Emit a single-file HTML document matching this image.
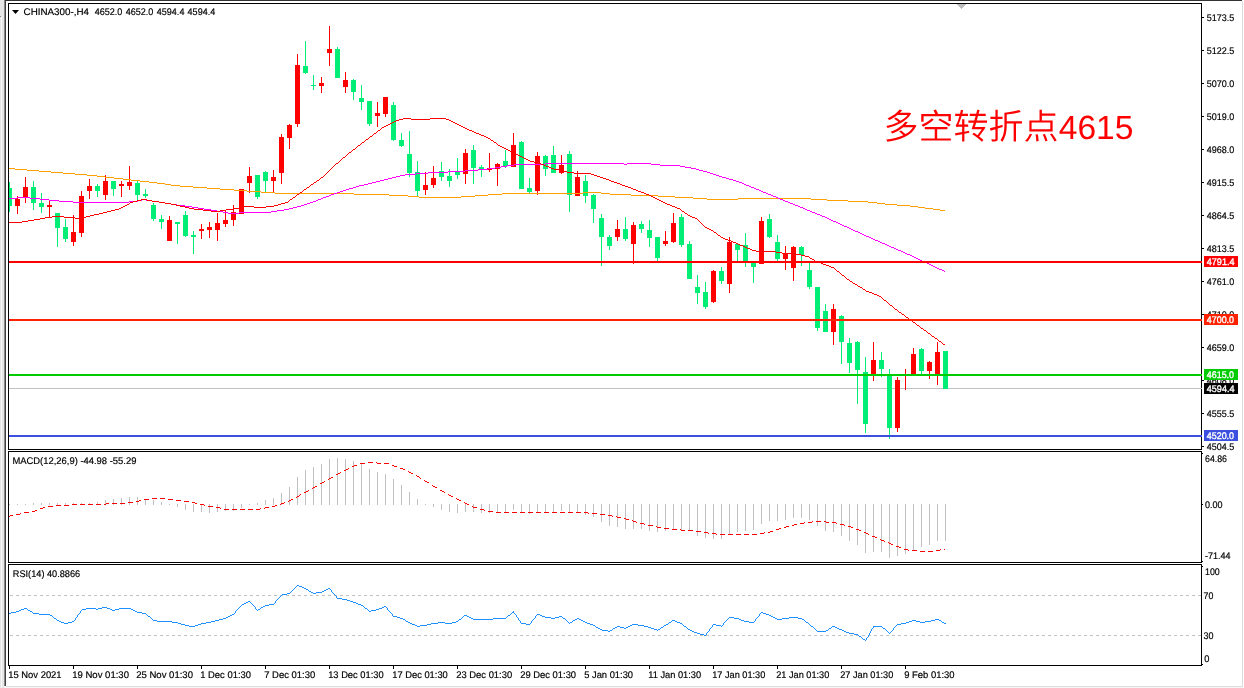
<!DOCTYPE html>
<html lang="zh"><head><meta charset="utf-8"><title>CHINA300 H4</title>
<style>html,body{margin:0;padding:0;background:#fff;overflow:hidden}svg{display:block}text{font-family:"Liberation Sans", sans-serif;text-rendering:geometricPrecision}.t{font-family:"Liberation Sans","Noto Sans CJK SC",sans-serif;font-weight:350}</style></head><body>
<svg width="1244" height="688" viewBox="0 0 1244 688" shape-rendering="crispEdges">
<rect x="0" y="0" width="1244" height="688" fill="#fff"/>
<rect x="0" y="0" width="4" height="688" fill="#e6e6e6"/>
<rect x="1" y="17" width="1" height="671" fill="#f6f6f6"/>
<rect x="0" y="16" width="1" height="1" fill="#808080"/>
<rect x="4" y="0" width="1" height="686" fill="#8a8a8a"/>
<rect x="5" y="0" width="1" height="686" fill="#404040"/>
<rect x="5" y="0" width="1237" height="1" fill="#333333"/>
<rect x="1242" y="1" width="1" height="686" fill="#dcdcdc"/>
<rect x="6" y="686" width="1237" height="1" fill="#dcdcdc"/>
<rect x="4" y="687" width="1240" height="1" fill="#f6f6f6"/>
<rect x="8" y="3" width="1194" height="1" fill="#000"/>
<rect x="8" y="449" width="1194" height="1" fill="#000"/>
<rect x="8" y="3" width="1" height="447" fill="#000"/>
<rect x="1201" y="3" width="1" height="447" fill="#000"/>
<rect x="8" y="451" width="1194" height="1" fill="#000"/>
<rect x="8" y="562" width="1194" height="1" fill="#000"/>
<rect x="8" y="451" width="1" height="112" fill="#000"/>
<rect x="1201" y="451" width="1" height="112" fill="#000"/>
<rect x="8" y="564" width="1194" height="1" fill="#000"/>
<rect x="8" y="665" width="1194" height="1" fill="#000"/>
<rect x="8" y="564" width="1" height="102" fill="#000"/>
<rect x="1201" y="564" width="1" height="102" fill="#000"/>
<defs><clipPath id="c0"><rect x="9" y="4" width="1192" height="445"/></clipPath><clipPath id="c1"><rect x="9" y="452" width="1192" height="110"/></clipPath><clipPath id="c2"><rect x="9" y="565" width="1192" height="100"/></clipPath></defs>
<rect x="1202" y="17" width="2" height="1" fill="#000"/>
<text x="1206.8" y="21" fill="#000" font-size="9.6" stroke="#000" stroke-width="0.18" textLength="27.5" lengthAdjust="spacingAndGlyphs">5173.5</text>
<rect x="1202" y="50" width="2" height="1" fill="#000"/>
<text x="1206.8" y="54" fill="#000" font-size="9.6" stroke="#000" stroke-width="0.18" textLength="27.5" lengthAdjust="spacingAndGlyphs">5122.5</text>
<rect x="1202" y="83" width="2" height="1" fill="#000"/>
<text x="1206.8" y="87" fill="#000" font-size="9.6" stroke="#000" stroke-width="0.18" textLength="27.5" lengthAdjust="spacingAndGlyphs">5070.0</text>
<rect x="1202" y="116" width="2" height="1" fill="#000"/>
<text x="1206.8" y="120" fill="#000" font-size="9.6" stroke="#000" stroke-width="0.18" textLength="27.5" lengthAdjust="spacingAndGlyphs">5019.0</text>
<rect x="1202" y="149" width="2" height="1" fill="#000"/>
<text x="1206.8" y="153" fill="#000" font-size="9.6" stroke="#000" stroke-width="0.18" textLength="27.5" lengthAdjust="spacingAndGlyphs">4968.0</text>
<rect x="1202" y="182" width="2" height="1" fill="#000"/>
<text x="1206.8" y="186" fill="#000" font-size="9.6" stroke="#000" stroke-width="0.18" textLength="27.5" lengthAdjust="spacingAndGlyphs">4915.5</text>
<rect x="1202" y="215" width="2" height="1" fill="#000"/>
<text x="1206.8" y="219" fill="#000" font-size="9.6" stroke="#000" stroke-width="0.18" textLength="27.5" lengthAdjust="spacingAndGlyphs">4864.5</text>
<rect x="1202" y="248" width="2" height="1" fill="#000"/>
<text x="1206.8" y="252" fill="#000" font-size="9.6" stroke="#000" stroke-width="0.18" textLength="27.5" lengthAdjust="spacingAndGlyphs">4813.5</text>
<rect x="1202" y="281" width="2" height="1" fill="#000"/>
<text x="1206.8" y="285" fill="#000" font-size="9.6" stroke="#000" stroke-width="0.18" textLength="27.5" lengthAdjust="spacingAndGlyphs">4761.0</text>
<rect x="1202" y="314" width="2" height="1" fill="#000"/>
<text x="1206.8" y="318" fill="#000" font-size="9.6" stroke="#000" stroke-width="0.18" textLength="27.5" lengthAdjust="spacingAndGlyphs">4710.0</text>
<rect x="1202" y="347" width="2" height="1" fill="#000"/>
<text x="1206.8" y="351" fill="#000" font-size="9.6" stroke="#000" stroke-width="0.18" textLength="27.5" lengthAdjust="spacingAndGlyphs">4659.0</text>
<rect x="1202" y="380" width="2" height="1" fill="#000"/>
<text x="1206.8" y="384" fill="#000" font-size="9.6" stroke="#000" stroke-width="0.18" textLength="27.5" lengthAdjust="spacingAndGlyphs">4608.0</text>
<rect x="1202" y="413" width="2" height="1" fill="#000"/>
<text x="1206.8" y="417" fill="#000" font-size="9.6" stroke="#000" stroke-width="0.18" textLength="27.5" lengthAdjust="spacingAndGlyphs">4555.5</text>
<rect x="1202" y="446" width="2" height="1" fill="#000"/>
<text x="1206.8" y="450" fill="#000" font-size="9.6" stroke="#000" stroke-width="0.18" textLength="27.5" lengthAdjust="spacingAndGlyphs">4504.5</text>
<g clip-path="url(#c0)">
<rect x="9" y="388" width="1192" height="1" fill="#c0c0c0"/>
<rect x="9" y="182" width="1" height="30" fill="#00ee76"/>
<rect x="7" y="188" width="5" height="18" fill="#00ee76"/>
<rect x="17" y="196" width="1" height="18" fill="#ff0000"/>
<rect x="15" y="199" width="5" height="7" fill="#ff0000"/>
<rect x="25" y="177" width="1" height="26" fill="#ff0000"/>
<rect x="23" y="187" width="5" height="10" fill="#ff0000"/>
<rect x="33" y="181" width="1" height="29" fill="#00ee76"/>
<rect x="31" y="187" width="5" height="16" fill="#00ee76"/>
<rect x="41" y="193" width="1" height="20" fill="#00ee76"/>
<rect x="39" y="203" width="5" height="4" fill="#00ee76"/>
<rect x="49" y="200" width="1" height="17" fill="#ff0000"/>
<rect x="47" y="205" width="5" height="2" fill="#ff0000"/>
<rect x="57" y="213" width="1" height="34" fill="#00ee76"/>
<rect x="55" y="213" width="5" height="15" fill="#00ee76"/>
<rect x="65" y="219" width="1" height="23" fill="#00ee76"/>
<rect x="63" y="227" width="5" height="12" fill="#00ee76"/>
<rect x="73" y="215" width="1" height="31" fill="#ff0000"/>
<rect x="71" y="232" width="5" height="10" fill="#ff0000"/>
<rect x="81" y="191" width="1" height="46" fill="#ff0000"/>
<rect x="79" y="196" width="5" height="37" fill="#ff0000"/>
<rect x="89" y="179" width="1" height="20" fill="#ff0000"/>
<rect x="87" y="186" width="5" height="5" fill="#ff0000"/>
<rect x="97" y="184" width="1" height="13" fill="#00ee76"/>
<rect x="95" y="186" width="5" height="5" fill="#00ee76"/>
<rect x="105" y="175" width="1" height="25" fill="#ff0000"/>
<rect x="103" y="181" width="5" height="14" fill="#ff0000"/>
<rect x="113" y="181" width="1" height="15" fill="#00ee76"/>
<rect x="111" y="181" width="5" height="8" fill="#00ee76"/>
<rect x="121" y="181" width="1" height="16" fill="#ff0000"/>
<rect x="119" y="184" width="5" height="2" fill="#ff0000"/>
<rect x="129" y="166" width="1" height="24" fill="#ff0000"/>
<rect x="127" y="182" width="5" height="4" fill="#ff0000"/>
<rect x="137" y="181" width="1" height="20" fill="#00ee76"/>
<rect x="135" y="183" width="5" height="12" fill="#00ee76"/>
<rect x="145" y="189" width="1" height="9" fill="#00ee76"/>
<rect x="143" y="194" width="5" height="2" fill="#00ee76"/>
<rect x="153" y="203" width="1" height="18" fill="#00ee76"/>
<rect x="151" y="205" width="5" height="14" fill="#00ee76"/>
<rect x="161" y="215" width="1" height="14" fill="#00ee76"/>
<rect x="159" y="219" width="5" height="3" fill="#00ee76"/>
<rect x="169" y="216" width="1" height="25" fill="#ff0000"/>
<rect x="167" y="220" width="5" height="21" fill="#ff0000"/>
<rect x="177" y="222" width="1" height="22" fill="#00ee76"/>
<rect x="175" y="222" width="5" height="2" fill="#00ee76"/>
<rect x="185" y="211" width="1" height="26" fill="#00ee76"/>
<rect x="183" y="215" width="5" height="21" fill="#00ee76"/>
<rect x="193" y="231" width="1" height="23" fill="#00ee76"/>
<rect x="191" y="235" width="5" height="2" fill="#00ee76"/>
<rect x="201" y="224" width="1" height="15" fill="#ff0000"/>
<rect x="199" y="229" width="5" height="2" fill="#ff0000"/>
<rect x="209" y="222" width="1" height="16" fill="#ff0000"/>
<rect x="207" y="227" width="5" height="3" fill="#ff0000"/>
<rect x="217" y="213" width="1" height="28" fill="#ff0000"/>
<rect x="215" y="223" width="5" height="7" fill="#ff0000"/>
<rect x="225" y="210" width="1" height="17" fill="#ff0000"/>
<rect x="223" y="220" width="5" height="4" fill="#ff0000"/>
<rect x="233" y="205" width="1" height="21" fill="#ff0000"/>
<rect x="231" y="212" width="5" height="8" fill="#ff0000"/>
<rect x="241" y="189" width="1" height="25" fill="#ff0000"/>
<rect x="239" y="189" width="5" height="25" fill="#ff0000"/>
<rect x="249" y="167" width="1" height="26" fill="#ff0000"/>
<rect x="247" y="176" width="5" height="7" fill="#ff0000"/>
<rect x="257" y="175" width="1" height="24" fill="#00ee76"/>
<rect x="255" y="175" width="5" height="22" fill="#00ee76"/>
<rect x="265" y="171" width="1" height="21" fill="#00ee76"/>
<rect x="263" y="172" width="5" height="9" fill="#00ee76"/>
<rect x="273" y="170" width="1" height="22" fill="#ff0000"/>
<rect x="271" y="177" width="5" height="4" fill="#ff0000"/>
<rect x="281" y="134" width="1" height="50" fill="#ff0000"/>
<rect x="279" y="137" width="5" height="36" fill="#ff0000"/>
<rect x="289" y="124" width="1" height="25" fill="#ff0000"/>
<rect x="287" y="125" width="5" height="13" fill="#ff0000"/>
<rect x="297" y="54" width="1" height="73" fill="#ff0000"/>
<rect x="295" y="65" width="5" height="59" fill="#ff0000"/>
<rect x="305" y="41" width="1" height="33" fill="#00ee76"/>
<rect x="303" y="66" width="5" height="7" fill="#00ee76"/>
<rect x="313" y="75" width="1" height="15" fill="#00ee76"/>
<rect x="311" y="85" width="5" height="1" fill="#00ee76"/>
<rect x="321" y="77" width="1" height="16" fill="#ff0000"/>
<rect x="319" y="83" width="5" height="3" fill="#ff0000"/>
<rect x="329" y="26" width="1" height="40" fill="#ff0000"/>
<rect x="327" y="49" width="5" height="4" fill="#ff0000"/>
<rect x="337" y="47" width="1" height="31" fill="#00ee76"/>
<rect x="335" y="49" width="5" height="29" fill="#00ee76"/>
<rect x="345" y="72" width="1" height="21" fill="#ff0000"/>
<rect x="343" y="80" width="5" height="7" fill="#ff0000"/>
<rect x="353" y="79" width="1" height="21" fill="#00ee76"/>
<rect x="351" y="80" width="5" height="12" fill="#00ee76"/>
<rect x="361" y="85" width="1" height="25" fill="#00ee76"/>
<rect x="359" y="98" width="5" height="4" fill="#00ee76"/>
<rect x="369" y="101" width="1" height="25" fill="#00ee76"/>
<rect x="367" y="101" width="5" height="23" fill="#00ee76"/>
<rect x="377" y="102" width="1" height="25" fill="#ff0000"/>
<rect x="375" y="113" width="5" height="3" fill="#ff0000"/>
<rect x="385" y="97" width="1" height="20" fill="#ff0000"/>
<rect x="383" y="97" width="5" height="17" fill="#ff0000"/>
<rect x="393" y="102" width="1" height="39" fill="#00ee76"/>
<rect x="391" y="105" width="5" height="35" fill="#00ee76"/>
<rect x="401" y="133" width="1" height="14" fill="#00ee76"/>
<rect x="399" y="140" width="5" height="6" fill="#00ee76"/>
<rect x="409" y="131" width="1" height="46" fill="#00ee76"/>
<rect x="407" y="154" width="5" height="19" fill="#00ee76"/>
<rect x="417" y="161" width="1" height="35" fill="#00ee76"/>
<rect x="415" y="172" width="5" height="19" fill="#00ee76"/>
<rect x="425" y="172" width="1" height="23" fill="#ff0000"/>
<rect x="423" y="185" width="5" height="5" fill="#ff0000"/>
<rect x="433" y="166" width="1" height="22" fill="#ff0000"/>
<rect x="431" y="178" width="5" height="7" fill="#ff0000"/>
<rect x="441" y="162" width="1" height="19" fill="#00ee76"/>
<rect x="439" y="171" width="5" height="6" fill="#00ee76"/>
<rect x="449" y="169" width="1" height="18" fill="#00ee76"/>
<rect x="447" y="176" width="5" height="5" fill="#00ee76"/>
<rect x="457" y="158" width="1" height="21" fill="#00ee76"/>
<rect x="455" y="172" width="5" height="3" fill="#00ee76"/>
<rect x="465" y="149" width="1" height="35" fill="#ff0000"/>
<rect x="463" y="153" width="5" height="21" fill="#ff0000"/>
<rect x="473" y="145" width="1" height="39" fill="#00ee76"/>
<rect x="471" y="150" width="5" height="18" fill="#00ee76"/>
<rect x="481" y="165" width="1" height="12" fill="#00ee76"/>
<rect x="479" y="167" width="5" height="2" fill="#00ee76"/>
<rect x="489" y="153" width="1" height="19" fill="#ff0000"/>
<rect x="487" y="168" width="5" height="2" fill="#ff0000"/>
<rect x="497" y="163" width="1" height="23" fill="#ff0000"/>
<rect x="495" y="164" width="5" height="5" fill="#ff0000"/>
<rect x="505" y="150" width="1" height="18" fill="#00ee76"/>
<rect x="503" y="161" width="5" height="5" fill="#00ee76"/>
<rect x="513" y="133" width="1" height="34" fill="#ff0000"/>
<rect x="511" y="145" width="5" height="22" fill="#ff0000"/>
<rect x="521" y="141" width="1" height="48" fill="#00ee76"/>
<rect x="519" y="142" width="5" height="47" fill="#00ee76"/>
<rect x="529" y="178" width="1" height="15" fill="#00ee76"/>
<rect x="527" y="188" width="5" height="4" fill="#00ee76"/>
<rect x="537" y="152" width="1" height="43" fill="#ff0000"/>
<rect x="535" y="156" width="5" height="35" fill="#ff0000"/>
<rect x="545" y="155" width="1" height="21" fill="#00ee76"/>
<rect x="543" y="156" width="5" height="13" fill="#00ee76"/>
<rect x="553" y="146" width="1" height="27" fill="#00ee76"/>
<rect x="551" y="155" width="5" height="18" fill="#00ee76"/>
<rect x="561" y="155" width="1" height="19" fill="#ff0000"/>
<rect x="559" y="165" width="5" height="8" fill="#ff0000"/>
<rect x="569" y="151" width="1" height="61" fill="#00ee76"/>
<rect x="567" y="154" width="5" height="41" fill="#00ee76"/>
<rect x="577" y="171" width="1" height="25" fill="#ff0000"/>
<rect x="575" y="177" width="5" height="19" fill="#ff0000"/>
<rect x="585" y="175" width="1" height="28" fill="#00ee76"/>
<rect x="583" y="181" width="5" height="15" fill="#00ee76"/>
<rect x="593" y="194" width="1" height="29" fill="#00ee76"/>
<rect x="591" y="195" width="5" height="14" fill="#00ee76"/>
<rect x="601" y="214" width="1" height="52" fill="#00ee76"/>
<rect x="599" y="218" width="5" height="19" fill="#00ee76"/>
<rect x="609" y="235" width="1" height="15" fill="#00ee76"/>
<rect x="607" y="237" width="5" height="9" fill="#00ee76"/>
<rect x="617" y="220" width="1" height="21" fill="#ff0000"/>
<rect x="615" y="229" width="5" height="8" fill="#ff0000"/>
<rect x="625" y="217" width="1" height="24" fill="#00ee76"/>
<rect x="623" y="229" width="5" height="10" fill="#00ee76"/>
<rect x="633" y="222" width="1" height="42" fill="#ff0000"/>
<rect x="631" y="225" width="5" height="19" fill="#ff0000"/>
<rect x="641" y="221" width="1" height="12" fill="#00ee76"/>
<rect x="639" y="224" width="5" height="5" fill="#00ee76"/>
<rect x="649" y="220" width="1" height="27" fill="#00ee76"/>
<rect x="647" y="230" width="5" height="8" fill="#00ee76"/>
<rect x="657" y="237" width="1" height="24" fill="#00ee76"/>
<rect x="655" y="237" width="5" height="21" fill="#00ee76"/>
<rect x="665" y="231" width="1" height="15" fill="#ff0000"/>
<rect x="663" y="241" width="5" height="3" fill="#ff0000"/>
<rect x="673" y="213" width="1" height="30" fill="#ff0000"/>
<rect x="671" y="223" width="5" height="19" fill="#ff0000"/>
<rect x="681" y="214" width="1" height="33" fill="#00ee76"/>
<rect x="679" y="217" width="5" height="28" fill="#00ee76"/>
<rect x="689" y="241" width="1" height="38" fill="#00ee76"/>
<rect x="687" y="244" width="5" height="35" fill="#00ee76"/>
<rect x="697" y="275" width="1" height="29" fill="#00ee76"/>
<rect x="695" y="287" width="5" height="6" fill="#00ee76"/>
<rect x="705" y="282" width="1" height="27" fill="#00ee76"/>
<rect x="703" y="292" width="5" height="15" fill="#00ee76"/>
<rect x="713" y="270" width="1" height="33" fill="#ff0000"/>
<rect x="711" y="271" width="5" height="31" fill="#ff0000"/>
<rect x="721" y="267" width="1" height="17" fill="#00ee76"/>
<rect x="719" y="271" width="5" height="10" fill="#00ee76"/>
<rect x="729" y="237" width="1" height="56" fill="#ff0000"/>
<rect x="727" y="242" width="5" height="42" fill="#ff0000"/>
<rect x="737" y="243" width="1" height="18" fill="#00ee76"/>
<rect x="735" y="244" width="5" height="6" fill="#00ee76"/>
<rect x="745" y="233" width="1" height="34" fill="#00ee76"/>
<rect x="743" y="245" width="5" height="16" fill="#00ee76"/>
<rect x="753" y="261" width="1" height="22" fill="#00ee76"/>
<rect x="751" y="262" width="5" height="5" fill="#00ee76"/>
<rect x="761" y="217" width="1" height="47" fill="#ff0000"/>
<rect x="759" y="221" width="5" height="43" fill="#ff0000"/>
<rect x="769" y="214" width="1" height="24" fill="#00ee76"/>
<rect x="767" y="219" width="5" height="18" fill="#00ee76"/>
<rect x="777" y="235" width="1" height="26" fill="#00ee76"/>
<rect x="775" y="242" width="5" height="17" fill="#00ee76"/>
<rect x="785" y="246" width="1" height="24" fill="#ff0000"/>
<rect x="783" y="253" width="5" height="6" fill="#ff0000"/>
<rect x="793" y="246" width="1" height="35" fill="#ff0000"/>
<rect x="791" y="247" width="5" height="21" fill="#ff0000"/>
<rect x="801" y="246" width="1" height="20" fill="#00ee76"/>
<rect x="799" y="247" width="5" height="8" fill="#00ee76"/>
<rect x="809" y="263" width="1" height="26" fill="#00ee76"/>
<rect x="807" y="270" width="5" height="17" fill="#00ee76"/>
<rect x="817" y="287" width="1" height="44" fill="#00ee76"/>
<rect x="815" y="287" width="5" height="41" fill="#00ee76"/>
<rect x="825" y="304" width="1" height="28" fill="#00ee76"/>
<rect x="823" y="311" width="5" height="21" fill="#00ee76"/>
<rect x="833" y="304" width="1" height="41" fill="#ff0000"/>
<rect x="831" y="309" width="5" height="23" fill="#ff0000"/>
<rect x="841" y="315" width="1" height="49" fill="#00ee76"/>
<rect x="839" y="316" width="5" height="26" fill="#00ee76"/>
<rect x="849" y="338" width="1" height="35" fill="#00ee76"/>
<rect x="847" y="343" width="5" height="20" fill="#00ee76"/>
<rect x="857" y="341" width="1" height="63" fill="#00ee76"/>
<rect x="855" y="342" width="5" height="28" fill="#00ee76"/>
<rect x="865" y="357" width="1" height="76" fill="#00ee76"/>
<rect x="863" y="372" width="5" height="52" fill="#00ee76"/>
<rect x="873" y="342" width="1" height="39" fill="#ff0000"/>
<rect x="871" y="360" width="5" height="15" fill="#ff0000"/>
<rect x="881" y="352" width="1" height="25" fill="#00ee76"/>
<rect x="879" y="360" width="5" height="9" fill="#00ee76"/>
<rect x="889" y="369" width="1" height="70" fill="#00ee76"/>
<rect x="887" y="375" width="5" height="53" fill="#00ee76"/>
<rect x="897" y="377" width="1" height="55" fill="#ff0000"/>
<rect x="895" y="380" width="5" height="48" fill="#ff0000"/>
<rect x="905" y="369" width="1" height="21" fill="#ff0000"/>
<rect x="903" y="374" width="5" height="2" fill="#ff0000"/>
<rect x="913" y="348" width="1" height="26" fill="#ff0000"/>
<rect x="911" y="354" width="5" height="20" fill="#ff0000"/>
<rect x="921" y="348" width="1" height="26" fill="#00ee76"/>
<rect x="919" y="349" width="5" height="22" fill="#00ee76"/>
<rect x="929" y="361" width="1" height="18" fill="#ff0000"/>
<rect x="927" y="362" width="5" height="9" fill="#ff0000"/>
<rect x="937" y="342" width="1" height="43" fill="#ff0000"/>
<rect x="935" y="352" width="5" height="22" fill="#ff0000"/>
<rect x="945" y="351" width="1" height="38" fill="#00ee76"/>
<rect x="943" y="351" width="5" height="38" fill="#00ee76"/>
<path fill="#ffa000" d="M9 168h6v1h-6zM15 169h12v1h-12zM27 170h12v1h-12zM39 171h12v1h-12zM51 172h12v1h-12zM63 173h12v1h-12zM75 174h12v1h-12zM87 175h10v1h-10zM97 176h8v1h-8zM105 177h9v1h-9zM114 178h9v1h-9zM123 179h8v1h-8zM131 180h9v1h-9zM140 181h9v1h-9zM149 182h8v1h-8zM157 183h8v1h-8zM165 184h6v1h-6zM171 185h9v1h-9zM180 186h13v1h-13zM193 187h14v1h-14zM207 188h13v1h-13zM220 189h14v1h-14zM234 190h13v1h-13zM247 191h14v1h-14zM261 192h14v1h-14zM275 193h79v1h-79zM354 194h35v1h-35zM389 195h19v1h-19zM408 196h11v1h-11zM419 197h42v1h-42zM461 196h14v1h-14zM475 195h13v1h-13zM488 194h14v1h-14zM502 193h81v1h-81zM583 192h18v1h-18zM601 193h9v1h-9zM610 194h21v1h-21zM631 195h27v1h-27zM658 196h17v1h-17zM675 197h18v1h-18zM693 198h14v1h-14zM707 199h31v1h-31zM738 198h73v1h-73zM811 199h16v1h-16zM827 200h21v1h-21zM848 201h20v1h-20zM868 202h9v1h-9zM877 203h8v1h-8zM885 204h12v1h-12zM897 205h13v1h-13zM910 206h8v1h-8zM918 207h7v1h-7zM925 208h8v1h-8zM933 209h7v1h-7zM940 210h5v1h-5z"/>
<path fill="#ff00ff" d="M9 198h8v1h-8zM17 197h13v1h-13zM30 198h10v1h-10zM40 199h9v1h-9zM49 200h10v1h-10zM59 201h14v1h-14zM73 202h56v1h-56zM129 201h9v1h-9zM138 200h4v1h-4zM142 199h4v1h-4zM146 200h6v1h-6zM152 201h7v1h-7zM159 202h6v1h-6zM165 203h6v1h-6zM171 204h6v1h-6zM177 205h8v1h-8zM185 206h7v1h-7zM192 207h6v1h-6zM198 208h6v1h-6zM204 209h7v1h-7zM211 210h6v1h-6zM217 211h6v1h-6zM223 212h5v1h-5zM228 213h11v1h-11zM239 212h32v1h-32zM271 211h6v1h-6zM277 210h7v1h-7zM284 209h5v1h-5zM289 208h4v1h-4zM293 207h4v1h-4zM297 206h4v1h-4zM301 205h3v1h-3zM304 204h3v1h-3zM307 203h3v1h-3zM310 202h3v1h-3zM313 201h3v1h-3zM316 200h2v1h-2zM318 199h3v1h-3zM321 198h2v1h-2zM323 197h3v1h-3zM326 196h3v1h-3zM329 195h2v1h-2zM331 194h3v1h-3zM334 193h3v1h-3zM337 192h3v1h-3zM340 191h3v1h-3zM343 190h3v1h-3zM346 189h3v1h-3zM349 188h4v1h-4zM353 187h3v1h-3zM356 186h3v1h-3zM359 185h5v1h-5zM364 184h4v1h-4zM368 183h4v1h-4zM372 182h4v1h-4zM376 181h4v1h-4zM380 180h4v1h-4zM384 179h4v1h-4zM388 178h4v1h-4zM392 177h4v1h-4zM396 176h4v1h-4zM400 175h5v1h-5zM405 174h11v1h-11zM416 173h12v1h-12zM428 172h20v1h-20zM448 171h17v1h-17zM465 170h13v1h-13zM478 169h10v1h-10zM488 168h7v1h-7zM495 167h6v1h-6zM501 166h6v1h-6zM507 165h7v1h-7zM514 164h31v1h-31zM545 163h79v1h-79zM624 164h3v1h-3zM627 163h24v1h-24zM651 164h9v1h-9zM660 165h20v1h-20zM680 166h5v1h-5zM685 167h6v1h-6zM691 168h5v1h-5zM696 169h3v1h-3zM699 170h4v1h-4zM703 171h4v1h-4zM707 172h3v1h-3zM710 173h3v1h-3zM713 174h3v1h-3zM716 175h3v1h-3zM719 176h3v1h-3zM722 177h4v1h-4zM726 178h3v1h-3zM729 179h4v1h-4zM733 180h3v1h-3zM736 181h3v1h-3zM739 182h3v1h-3zM742 183h2v1h-2zM744 184h2v1h-2zM746 185h3v1h-3zM749 186h2v1h-2zM751 187h3v1h-3zM754 188h2v1h-2zM756 189h3v1h-3zM759 190h2v1h-2zM761 191h2v1h-2zM763 192h3v1h-3zM766 193h2v1h-2zM768 194h3v1h-3zM771 195h2v1h-2zM773 196h3v1h-3zM776 197h2v1h-2zM778 198h2v1h-2zM780 199h3v1h-3zM783 200h2v1h-2zM785 201h3v1h-3zM788 202h2v1h-2zM790 203h3v1h-3zM793 204h2v1h-2zM795 205h3v1h-3zM798 206h2v1h-2zM800 207h3v1h-3zM803 208h2v1h-2zM805 209h2v1h-2zM807 210h3v1h-3zM810 211h2v1h-2zM812 212h3v1h-3zM815 213h2v1h-2zM817 214h3v1h-3zM820 215h2v1h-2zM822 216h3v1h-3zM825 217h2v1h-2zM827 218h2v1h-2zM829 219h2v1h-2zM831 220h2v1h-2zM833 221h3v1h-3zM836 222h2v1h-2zM838 223h2v1h-2zM840 224h2v1h-2zM842 225h2v1h-2zM844 226h3v1h-3zM847 227h2v1h-2zM849 228h2v1h-2zM851 229h2v1h-2zM853 230h2v1h-2zM855 231h3v1h-3zM858 232h2v1h-2zM860 233h2v1h-2zM862 234h2v1h-2zM864 235h2v1h-2zM866 236h3v1h-3zM869 237h2v1h-2zM871 238h2v1h-2zM873 239h2v1h-2zM875 240h3v1h-3zM878 241h2v1h-2zM880 242h2v1h-2zM882 243h3v1h-3zM885 244h2v1h-2zM887 245h2v1h-2zM889 246h2v1h-2zM891 247h3v1h-3zM894 248h2v1h-2zM896 249h2v1h-2zM898 250h3v1h-3zM901 251h2v1h-2zM903 252h2v1h-2zM905 253h2v1h-2zM907 254h3v1h-3zM910 255h2v1h-2zM912 256h2v1h-2zM914 257h2v1h-2zM916 258h2v1h-2zM918 259h2v1h-2zM920 260h2v1h-2zM922 261h3v1h-3zM925 262h2v1h-2zM927 263h2v1h-2zM929 264h2v1h-2zM931 265h2v1h-2zM933 266h2v1h-2zM935 267h2v1h-2zM937 268h2v1h-2zM939 269h3v1h-3zM942 270h2v1h-2zM944 271h1v1h-1z"/>
<path fill="#ff0000" d="M9 222h13v1h-13zM22 221h6v1h-6zM28 220h6v1h-6zM34 219h6v1h-6zM40 218h5v1h-5zM45 217h7v1h-7zM52 216h12v1h-12zM64 217h11v1h-11zM75 218h6v1h-6zM81 217h5v1h-5zM86 216h4v1h-4zM90 215h4v1h-4zM94 214h5v1h-5zM99 213h4v1h-4zM103 212h4v1h-4zM107 211h4v1h-4zM111 210h4v1h-4zM115 209h4v1h-4zM119 208h2v1h-2zM121 207h2v1h-2zM123 206h2v1h-2zM125 205h2v1h-2zM127 204h2v1h-2zM129 203h1v1h-1zM130 202h3v1h-3zM133 201h4v1h-4zM137 200h4v1h-4zM141 199h6v1h-6zM147 200h5v1h-5zM152 201h7v1h-7zM159 202h6v1h-6zM165 203h6v1h-6zM171 204h5v1h-5zM176 205h4v1h-4zM180 206h5v1h-5zM185 207h4v1h-4zM189 208h5v1h-5zM194 209h9v1h-9zM203 210h8v1h-8zM211 211h9v1h-9zM220 210h6v1h-6zM226 209h7v1h-7zM233 208h6v1h-6zM239 207h5v1h-5zM244 206h10v1h-10zM254 207h12v1h-12zM266 206h8v1h-8zM274 205h4v1h-4zM278 204h3v1h-3zM281 203h4v1h-4zM285 202h3v1h-3zM288 201h1v1h-1zM289 200h1v1h-1zM290 199h2v1h-2zM292 198h1v1h-1zM293 197h2v1h-2zM295 196h1v1h-1zM296 195h1v1h-1zM297 194h2v1h-2zM299 193h1v1h-1zM300 192h2v1h-2zM302 191h1v1h-1zM303 190h1v1h-1zM304 189h2v1h-2zM306 188h1v1h-1zM307 187h2v1h-2zM309 186h1v1h-1zM310 185h1v1h-1zM311 184h2v1h-2zM313 183h1v1h-1zM314 182h2v1h-2zM316 181h1v1h-1zM317 180h2v1h-2zM319 179h1v1h-1zM320 178h1v1h-1zM321 177h2v1h-2zM323 176h1v1h-1zM324 175h1v1h-1zM325 174h1v1h-1zM326 173h1v1h-1zM327 172h1v1h-1zM328 171h1v1h-1zM329 170h1v1h-1zM330 169h1v1h-1zM331 168h1v1h-1zM332 167h1v1h-1zM333 166h1v1h-1zM334 165h1v1h-1zM335 164h1v1h-1zM336 163h2v1h-2zM338 162h1v1h-1zM339 161h1v1h-1zM340 160h1v1h-1zM341 159h1v1h-1zM342 158h1v1h-1zM343 157h2v1h-2zM345 156h1v1h-1zM346 155h1v1h-1zM347 154h1v1h-1zM348 153h1v1h-1zM349 152h2v1h-2zM351 151h1v1h-1zM352 150h1v1h-1zM353 149h2v1h-2zM355 148h1v1h-1zM356 147h1v1h-1zM357 146h1v1h-1zM358 145h2v1h-2zM360 144h1v1h-1zM361 143h1v1h-1zM362 142h2v1h-2zM364 141h1v1h-1zM365 140h1v1h-1zM366 139h2v1h-2zM368 138h1v1h-1zM369 137h1v1h-1zM370 136h2v1h-2zM372 135h1v1h-1zM373 134h1v1h-1zM374 133h2v1h-2zM376 132h1v1h-1zM377 131h1v1h-1zM378 130h2v1h-2zM380 129h1v1h-1zM381 128h1v1h-1zM382 127h2v1h-2zM384 126h2v1h-2zM386 125h2v1h-2zM388 124h2v1h-2zM390 123h2v1h-2zM392 122h2v1h-2zM394 121h2v1h-2zM396 120h3v1h-3zM399 119h4v1h-4zM403 118h8v1h-8zM411 119h19v1h-19zM430 118h16v1h-16zM446 119h3v1h-3zM449 120h2v1h-2zM451 121h2v1h-2zM453 122h2v1h-2zM455 123h2v1h-2zM457 124h2v1h-2zM459 125h2v1h-2zM461 126h2v1h-2zM463 127h2v1h-2zM465 128h2v1h-2zM467 129h2v1h-2zM469 130h3v1h-3zM472 131h2v1h-2zM474 132h2v1h-2zM476 133h3v1h-3zM479 134h2v1h-2zM481 135h3v1h-3zM484 136h2v1h-2zM486 137h2v1h-2zM488 138h2v1h-2zM490 139h1v1h-1zM491 140h2v1h-2zM493 141h1v1h-1zM494 142h2v1h-2zM496 143h1v1h-1zM497 144h1v1h-1zM498 145h2v1h-2zM500 146h2v1h-2zM502 147h2v1h-2zM504 148h2v1h-2zM506 149h2v1h-2zM508 150h2v1h-2zM510 151h2v1h-2zM512 152h2v1h-2zM514 153h2v1h-2zM516 154h2v1h-2zM518 155h2v1h-2zM520 156h2v1h-2zM522 157h2v1h-2zM524 158h2v1h-2zM526 159h2v1h-2zM528 160h2v1h-2zM530 161h4v1h-4zM534 162h3v1h-3zM537 163h4v1h-4zM541 164h3v1h-3zM544 165h2v1h-2zM546 166h3v1h-3zM549 167h2v1h-2zM551 168h3v1h-3zM554 169h5v1h-5zM559 170h4v1h-4zM563 171h4v1h-4zM567 172h7v1h-7zM574 173h17v1h-17zM591 174h3v1h-3zM594 175h3v1h-3zM597 176h3v1h-3zM600 177h3v1h-3zM603 178h3v1h-3zM606 179h3v1h-3zM609 180h2v1h-2zM611 181h3v1h-3zM614 182h3v1h-3zM617 183h3v1h-3zM620 184h2v1h-2zM622 185h3v1h-3zM625 186h3v1h-3zM628 187h3v1h-3zM631 188h2v1h-2zM633 189h3v1h-3zM636 190h2v1h-2zM638 191h3v1h-3zM641 192h3v1h-3zM644 193h2v1h-2zM646 194h3v1h-3zM649 195h2v1h-2zM651 196h2v1h-2zM653 197h2v1h-2zM655 198h2v1h-2zM657 199h2v1h-2zM659 200h2v1h-2zM661 201h2v1h-2zM663 202h2v1h-2zM665 203h2v1h-2zM667 204h3v1h-3zM670 205h2v1h-2zM672 206h3v1h-3zM675 207h2v1h-2zM677 208h3v1h-3zM680 209h1v1h-1zM681 210h1v1h-1zM682 211h2v1h-2zM684 212h1v1h-1zM685 213h2v1h-2zM687 214h1v1h-1zM688 215h2v1h-2zM690 216h2v1h-2zM692 217h3v1h-3zM695 218h2v1h-2zM697 219h1v1h-1zM698 220h1v1h-1zM699 221h1v1h-1zM700 222h1v1h-1zM701 223h1v1h-1zM702 224h1v1h-1zM703 225h1v1h-1zM704 226h1v1h-1zM705 227h2v1h-2zM707 228h2v1h-2zM709 229h2v1h-2zM711 230h2v1h-2zM713 231h1v1h-1zM714 232h2v1h-2zM716 233h1v1h-1zM717 234h1v1h-1zM718 235h2v1h-2zM720 236h1v1h-1zM721 237h2v1h-2zM723 238h2v1h-2zM725 239h3v1h-3zM728 240h3v1h-3zM731 241h2v1h-2zM733 242h3v1h-3zM736 243h2v1h-2zM738 244h2v1h-2zM740 245h3v1h-3zM743 246h2v1h-2zM745 247h2v1h-2zM747 248h3v1h-3zM750 249h2v1h-2zM752 250h4v1h-4zM756 251h20v1h-20zM776 252h6v1h-6zM782 253h12v1h-12zM794 254h7v1h-7zM801 255h4v1h-4zM805 256h4v1h-4zM809 257h1v1h-1zM810 258h2v1h-2zM812 259h2v1h-2zM814 260h1v1h-1zM815 261h3v1h-3zM818 262h3v1h-3zM821 263h2v1h-2zM823 264h3v1h-3zM826 265h3v1h-3zM829 266h2v1h-2zM831 267h3v1h-3zM834 268h1v1h-1zM835 269h1v1h-1zM836 270h1v1h-1zM837 271h2v1h-2zM839 272h1v1h-1zM840 273h1v1h-1zM841 274h1v1h-1zM842 275h2v1h-2zM844 276h1v1h-1zM845 277h1v1h-1zM846 278h1v1h-1zM847 279h2v1h-2zM849 280h1v1h-1zM850 281h2v1h-2zM852 282h1v1h-1zM853 283h2v1h-2zM855 284h2v1h-2zM857 285h1v1h-1zM858 286h2v1h-2zM860 287h2v1h-2zM862 288h1v1h-1zM863 289h2v1h-2zM865 290h1v1h-1zM866 291h3v1h-3zM869 292h3v1h-3zM872 293h2v1h-2zM874 294h3v1h-3zM877 295h2v1h-2zM879 296h2v1h-2zM881 297h1v1h-1zM882 298h1v1h-1zM883 299h1v1h-1zM884 300h2v1h-2zM886 301h1v1h-1zM887 302h1v1h-1zM888 303h1v1h-1zM889 304h1v1h-1zM890 305h2v1h-2zM892 306h1v1h-1zM893 307h1v1h-1zM894 308h1v1h-1zM895 309h2v1h-2zM897 310h1v1h-1zM898 311h1v1h-1zM899 312h2v1h-2zM901 313h1v1h-1zM902 314h2v1h-2zM904 315h1v1h-1zM905 316h1v1h-1zM906 317h2v1h-2zM908 318h1v1h-1zM909 319h2v1h-2zM911 320h1v1h-1zM912 321h1v1h-1zM913 322h2v1h-2zM915 323h1v1h-1zM916 324h1v1h-1zM917 325h2v1h-2zM919 326h1v1h-1zM920 327h1v1h-1zM921 328h2v1h-2zM923 329h1v1h-1zM924 330h2v1h-2zM926 331h1v1h-1zM927 332h1v1h-1zM928 333h2v1h-2zM930 334h1v1h-1zM931 335h1v1h-1zM932 336h2v1h-2zM934 337h1v1h-1zM935 338h2v1h-2zM937 339h1v1h-1zM938 340h1v1h-1zM939 341h2v1h-2zM941 342h1v1h-1zM942 343h1v1h-1zM943 344h2v1h-2z"/>
</g>
<rect x="1201" y="388" width="1" height="1" fill="#c0c0c0"/>
<rect x="9" y="261" width="1193" height="2" fill="#ff0000"/>
<rect x="9" y="319" width="1193" height="2" fill="#ff2200"/>
<rect x="9" y="374" width="1193" height="2" fill="#00cc00"/>
<rect x="9" y="435" width="1193" height="2" fill="#3c50e0"/>
<rect x="1204" y="256" width="34" height="11" fill="#ff0000"/>
<text x="1206.8" y="265" fill="#fff" font-size="9.6" stroke="#fff" stroke-width="0.35" textLength="27.7" lengthAdjust="spacingAndGlyphs">4791.4</text>
<rect x="1204" y="314" width="34" height="11" fill="#ff2200"/>
<text x="1206.8" y="323" fill="#fff" font-size="9.6" stroke="#fff" stroke-width="0.35" textLength="27.2" lengthAdjust="spacingAndGlyphs">4700.0</text>
<rect x="1204" y="369" width="34" height="11" fill="#00cc00"/>
<text x="1206.8" y="378" fill="#fff" font-size="9.6" stroke="#fff" stroke-width="0.35" textLength="27.2" lengthAdjust="spacingAndGlyphs">4615.0</text>
<rect x="1204" y="383" width="34" height="11" fill="#000000"/>
<text x="1206.8" y="392" fill="#fff" font-size="9.6" stroke="#fff" stroke-width="0.35" textLength="27.7" lengthAdjust="spacingAndGlyphs">4594.4</text>
<rect x="1204" y="430" width="34" height="11" fill="#3c50e0"/>
<text x="1206.8" y="439" fill="#fff" font-size="9.6" stroke="#fff" stroke-width="0.35" textLength="27.2" lengthAdjust="spacingAndGlyphs">4520.0</text>
<rect x="957" y="4" width="9" height="1" fill="#bdbdbd"/>
<rect x="958" y="5" width="7" height="1" fill="#bdbdbd"/>
<rect x="959" y="6" width="5" height="1" fill="#bdbdbd"/>
<rect x="960" y="7" width="3" height="1" fill="#bdbdbd"/>
<rect x="961" y="8" width="1" height="1" fill="#bdbdbd"/>
<polygon points="12,10 19,10 15.5,14" fill="#000" shape-rendering="geometricPrecision"/>
<text x="23.6" y="15" fill="#000" font-size="9.6" stroke="#000" stroke-width="0.18" textLength="65.4" lengthAdjust="spacingAndGlyphs">CHINA300-,H4</text>
<text x="94.7" y="15" fill="#000" font-size="9.6" stroke="#000" stroke-width="0.18" textLength="27.6" lengthAdjust="spacingAndGlyphs">4652.0</text>
<text x="125.7" y="15" fill="#000" font-size="9.6" stroke="#000" stroke-width="0.18" textLength="27.6" lengthAdjust="spacingAndGlyphs">4652.0</text>
<text x="156.8" y="15" fill="#000" font-size="9.6" stroke="#000" stroke-width="0.18" textLength="27.6" lengthAdjust="spacingAndGlyphs">4594.4</text>
<text x="187.6" y="15" fill="#000" font-size="9.6" stroke="#000" stroke-width="0.18" textLength="27.6" lengthAdjust="spacingAndGlyphs">4594.4</text>
<text x="883.5" y="139" fill="#ff0000" font-size="35" class="t">多空转折点<tspan font-size="33.6" dx="0.2">4615</tspan></text>
<g clip-path="url(#c1)">
<rect x="9" y="504" width="1" height="1" fill="#c0c0c0"/>
<rect x="17" y="504" width="1" height="1" fill="#c0c0c0"/>
<rect x="25" y="504" width="1" height="1" fill="#c0c0c0"/>
<rect x="33" y="503" width="1" height="2" fill="#c0c0c0"/>
<rect x="41" y="503" width="1" height="2" fill="#c0c0c0"/>
<rect x="49" y="503" width="1" height="2" fill="#c0c0c0"/>
<rect x="57" y="503" width="1" height="2" fill="#c0c0c0"/>
<rect x="65" y="503" width="1" height="2" fill="#c0c0c0"/>
<rect x="73" y="503" width="1" height="2" fill="#c0c0c0"/>
<rect x="81" y="503" width="1" height="2" fill="#c0c0c0"/>
<rect x="89" y="503" width="1" height="2" fill="#c0c0c0"/>
<rect x="97" y="502" width="1" height="3" fill="#c0c0c0"/>
<rect x="105" y="500" width="1" height="5" fill="#c0c0c0"/>
<rect x="113" y="499" width="1" height="6" fill="#c0c0c0"/>
<rect x="121" y="498" width="1" height="7" fill="#c0c0c0"/>
<rect x="129" y="497" width="1" height="8" fill="#c0c0c0"/>
<rect x="137" y="497" width="1" height="8" fill="#c0c0c0"/>
<rect x="145" y="499" width="1" height="6" fill="#c0c0c0"/>
<rect x="153" y="500" width="1" height="5" fill="#c0c0c0"/>
<rect x="161" y="502" width="1" height="3" fill="#c0c0c0"/>
<rect x="169" y="504" width="1" height="1" fill="#c0c0c0"/>
<rect x="177" y="504" width="1" height="3" fill="#c0c0c0"/>
<rect x="185" y="504" width="1" height="6" fill="#c0c0c0"/>
<rect x="193" y="504" width="1" height="8" fill="#c0c0c0"/>
<rect x="201" y="504" width="1" height="8" fill="#c0c0c0"/>
<rect x="209" y="504" width="1" height="9" fill="#c0c0c0"/>
<rect x="217" y="504" width="1" height="8" fill="#c0c0c0"/>
<rect x="225" y="504" width="1" height="7" fill="#c0c0c0"/>
<rect x="233" y="504" width="1" height="7" fill="#c0c0c0"/>
<rect x="241" y="504" width="1" height="4" fill="#c0c0c0"/>
<rect x="249" y="504" width="1" height="1" fill="#c0c0c0"/>
<rect x="257" y="503" width="1" height="2" fill="#c0c0c0"/>
<rect x="265" y="500" width="1" height="5" fill="#c0c0c0"/>
<rect x="273" y="498" width="1" height="7" fill="#c0c0c0"/>
<rect x="281" y="493" width="1" height="12" fill="#c0c0c0"/>
<rect x="289" y="487" width="1" height="18" fill="#c0c0c0"/>
<rect x="297" y="477" width="1" height="28" fill="#c0c0c0"/>
<rect x="305" y="470" width="1" height="35" fill="#c0c0c0"/>
<rect x="313" y="467" width="1" height="38" fill="#c0c0c0"/>
<rect x="321" y="464" width="1" height="41" fill="#c0c0c0"/>
<rect x="329" y="459" width="1" height="46" fill="#c0c0c0"/>
<rect x="337" y="458" width="1" height="47" fill="#c0c0c0"/>
<rect x="345" y="459" width="1" height="46" fill="#c0c0c0"/>
<rect x="353" y="461" width="1" height="44" fill="#c0c0c0"/>
<rect x="361" y="464" width="1" height="41" fill="#c0c0c0"/>
<rect x="369" y="469" width="1" height="36" fill="#c0c0c0"/>
<rect x="377" y="472" width="1" height="33" fill="#c0c0c0"/>
<rect x="385" y="474" width="1" height="31" fill="#c0c0c0"/>
<rect x="393" y="479" width="1" height="26" fill="#c0c0c0"/>
<rect x="401" y="485" width="1" height="20" fill="#c0c0c0"/>
<rect x="409" y="492" width="1" height="13" fill="#c0c0c0"/>
<rect x="417" y="499" width="1" height="6" fill="#c0c0c0"/>
<rect x="425" y="504" width="1" height="1" fill="#c0c0c0"/>
<rect x="433" y="504" width="1" height="3" fill="#c0c0c0"/>
<rect x="441" y="504" width="1" height="6" fill="#c0c0c0"/>
<rect x="449" y="504" width="1" height="8" fill="#c0c0c0"/>
<rect x="457" y="504" width="1" height="9" fill="#c0c0c0"/>
<rect x="465" y="504" width="1" height="8" fill="#c0c0c0"/>
<rect x="473" y="504" width="1" height="8" fill="#c0c0c0"/>
<rect x="481" y="504" width="1" height="9" fill="#c0c0c0"/>
<rect x="489" y="504" width="1" height="9" fill="#c0c0c0"/>
<rect x="497" y="504" width="1" height="9" fill="#c0c0c0"/>
<rect x="505" y="504" width="1" height="8" fill="#c0c0c0"/>
<rect x="513" y="504" width="1" height="6" fill="#c0c0c0"/>
<rect x="521" y="504" width="1" height="9" fill="#c0c0c0"/>
<rect x="529" y="504" width="1" height="10" fill="#c0c0c0"/>
<rect x="537" y="504" width="1" height="8" fill="#c0c0c0"/>
<rect x="545" y="504" width="1" height="9" fill="#c0c0c0"/>
<rect x="553" y="504" width="1" height="8" fill="#c0c0c0"/>
<rect x="561" y="504" width="1" height="7" fill="#c0c0c0"/>
<rect x="569" y="504" width="1" height="9" fill="#c0c0c0"/>
<rect x="577" y="504" width="1" height="8" fill="#c0c0c0"/>
<rect x="585" y="504" width="1" height="11" fill="#c0c0c0"/>
<rect x="593" y="504" width="1" height="13" fill="#c0c0c0"/>
<rect x="601" y="504" width="1" height="18" fill="#c0c0c0"/>
<rect x="609" y="504" width="1" height="22" fill="#c0c0c0"/>
<rect x="617" y="504" width="1" height="23" fill="#c0c0c0"/>
<rect x="625" y="504" width="1" height="25" fill="#c0c0c0"/>
<rect x="633" y="504" width="1" height="25" fill="#c0c0c0"/>
<rect x="641" y="504" width="1" height="25" fill="#c0c0c0"/>
<rect x="649" y="504" width="1" height="27" fill="#c0c0c0"/>
<rect x="657" y="504" width="1" height="28" fill="#c0c0c0"/>
<rect x="665" y="504" width="1" height="27" fill="#c0c0c0"/>
<rect x="673" y="504" width="1" height="26" fill="#c0c0c0"/>
<rect x="681" y="504" width="1" height="26" fill="#c0c0c0"/>
<rect x="689" y="504" width="1" height="27" fill="#c0c0c0"/>
<rect x="697" y="504" width="1" height="32" fill="#c0c0c0"/>
<rect x="705" y="504" width="1" height="34" fill="#c0c0c0"/>
<rect x="713" y="504" width="1" height="35" fill="#c0c0c0"/>
<rect x="721" y="504" width="1" height="35" fill="#c0c0c0"/>
<rect x="729" y="504" width="1" height="30" fill="#c0c0c0"/>
<rect x="737" y="504" width="1" height="28" fill="#c0c0c0"/>
<rect x="745" y="504" width="1" height="27" fill="#c0c0c0"/>
<rect x="753" y="504" width="1" height="26" fill="#c0c0c0"/>
<rect x="761" y="504" width="1" height="20" fill="#c0c0c0"/>
<rect x="769" y="504" width="1" height="17" fill="#c0c0c0"/>
<rect x="777" y="504" width="1" height="17" fill="#c0c0c0"/>
<rect x="785" y="504" width="1" height="16" fill="#c0c0c0"/>
<rect x="793" y="504" width="1" height="14" fill="#c0c0c0"/>
<rect x="801" y="504" width="1" height="14" fill="#c0c0c0"/>
<rect x="809" y="504" width="1" height="16" fill="#c0c0c0"/>
<rect x="817" y="504" width="1" height="22" fill="#c0c0c0"/>
<rect x="825" y="504" width="1" height="27" fill="#c0c0c0"/>
<rect x="833" y="504" width="1" height="28" fill="#c0c0c0"/>
<rect x="841" y="504" width="1" height="32" fill="#c0c0c0"/>
<rect x="849" y="504" width="1" height="37" fill="#c0c0c0"/>
<rect x="857" y="504" width="1" height="41" fill="#c0c0c0"/>
<rect x="865" y="504" width="1" height="49" fill="#c0c0c0"/>
<rect x="873" y="504" width="1" height="48" fill="#c0c0c0"/>
<rect x="881" y="504" width="1" height="48" fill="#c0c0c0"/>
<rect x="889" y="504" width="1" height="54" fill="#c0c0c0"/>
<rect x="897" y="504" width="1" height="52" fill="#c0c0c0"/>
<rect x="905" y="504" width="1" height="50" fill="#c0c0c0"/>
<rect x="913" y="504" width="1" height="46" fill="#c0c0c0"/>
<rect x="921" y="504" width="1" height="43" fill="#c0c0c0"/>
<rect x="929" y="504" width="1" height="41" fill="#c0c0c0"/>
<rect x="937" y="504" width="1" height="37" fill="#c0c0c0"/>
<rect x="945" y="504" width="1" height="37" fill="#c0c0c0"/>
<path fill="#ff0000" d="M9 516h1v1h-1zM10 515h3v1h-3zM16 514h4v1h-4zM20 513h1v1h-1zM24 512h5v1h-5zM32 511h3v1h-3zM35 510h2v1h-2zM40 508h3v1h-3zM43 507h2v1h-2zM48 506h5v1h-5zM56 505h5v1h-5zM64 505h5v1h-5zM72 504h5v1h-5zM80 504h5v1h-5zM88 504h5v1h-5zM96 504h5v1h-5zM104 504h2v1h-2zM106 503h3v1h-3zM112 503h5v1h-5zM120 503h5v1h-5zM128 502h5v1h-5zM136 501h3v1h-3zM139 500h2v1h-2zM144 499h5v1h-5zM152 498h5v1h-5zM160 498h5v1h-5zM168 499h5v1h-5zM176 500h5v1h-5zM184 501h5v1h-5zM192 502h3v1h-3zM195 503h2v1h-2zM200 504h4v1h-4zM204 505h1v1h-1zM208 506h5v1h-5zM216 507h4v1h-4zM220 508h1v1h-1zM224 509h5v1h-5zM232 509h5v1h-5zM240 509h5v1h-5zM248 509h5v1h-5zM256 509h4v1h-4zM260 508h1v1h-1zM264 508h1v1h-1zM265 507h4v1h-4zM272 506h3v1h-3zM275 505h2v1h-2zM280 504h1v1h-1zM281 503h3v1h-3zM284 502h1v1h-1zM288 501h1v1h-1zM289 500h2v1h-2zM291 499h2v1h-2zM296 497h1v1h-1zM297 496h2v1h-2zM299 495h1v1h-1zM300 494h1v1h-1zM304 492h2v1h-2zM306 491h2v1h-2zM308 490h1v1h-1zM312 488h1v1h-1zM313 487h2v1h-2zM315 486h2v1h-2zM320 483h2v1h-2zM322 482h2v1h-2zM324 481h1v1h-1zM328 479h1v1h-1zM329 478h2v1h-2zM331 477h2v1h-2zM336 474h2v1h-2zM338 473h2v1h-2zM340 472h1v1h-1zM344 470h2v1h-2zM346 469h2v1h-2zM348 468h1v1h-1zM352 466h2v1h-2zM354 465h3v1h-3zM360 463h5v1h-5zM368 462h5v1h-5zM376 462h1v1h-1zM377 463h4v1h-4zM384 463h5v1h-5zM392 465h2v1h-2zM394 466h3v1h-3zM400 468h3v1h-3zM403 469h2v1h-2zM408 471h1v1h-1zM409 472h2v1h-2zM411 473h2v1h-2zM416 475h1v1h-1zM417 476h2v1h-2zM419 477h1v1h-1zM420 478h1v1h-1zM424 480h1v1h-1zM425 481h2v1h-2zM427 482h2v1h-2zM432 485h1v1h-1zM433 486h2v1h-2zM435 487h2v1h-2zM440 490h2v1h-2zM442 491h2v1h-2zM444 492h1v1h-1zM448 494h1v1h-1zM449 495h2v1h-2zM451 496h2v1h-2zM456 498h1v1h-1zM457 499h2v1h-2zM459 500h2v1h-2zM464 502h1v1h-1zM465 503h2v1h-2zM467 504h2v1h-2zM472 506h1v1h-1zM473 507h4v1h-4zM480 509h4v1h-4zM484 510h1v1h-1zM488 511h5v1h-5zM496 512h5v1h-5zM504 512h5v1h-5zM512 512h5v1h-5zM520 512h5v1h-5zM528 512h5v1h-5zM536 512h5v1h-5zM544 512h5v1h-5zM552 512h5v1h-5zM560 512h5v1h-5zM568 512h5v1h-5zM576 512h5v1h-5zM584 512h4v1h-4zM588 513h1v1h-1zM592 513h5v1h-5zM600 514h5v1h-5zM608 515h4v1h-4zM612 516h1v1h-1zM616 516h1v1h-1zM617 517h4v1h-4zM624 518h2v1h-2zM626 519h3v1h-3zM632 520h1v1h-1zM633 521h3v1h-3zM636 522h1v1h-1zM640 523h4v1h-4zM644 524h1v1h-1zM648 525h5v1h-5zM656 526h1v1h-1zM657 527h4v1h-4zM664 528h5v1h-5zM672 529h5v1h-5zM680 529h1v1h-1zM681 530h4v1h-4zM688 530h5v1h-5zM696 531h5v1h-5zM704 532h4v1h-4zM708 533h1v1h-1zM712 533h4v1h-4zM716 534h1v1h-1zM720 534h5v1h-5zM728 534h5v1h-5zM736 534h5v1h-5zM744 534h5v1h-5zM752 534h5v1h-5zM760 533h4v1h-4zM764 532h1v1h-1zM768 532h2v1h-2zM770 531h3v1h-3zM776 529h3v1h-3zM779 528h2v1h-2zM784 527h2v1h-2zM786 526h3v1h-3zM792 525h2v1h-2zM794 524h3v1h-3zM800 523h4v1h-4zM804 522h1v1h-1zM808 522h4v1h-4zM812 521h1v1h-1zM816 521h5v1h-5zM824 521h2v1h-2zM826 522h3v1h-3zM832 522h4v1h-4zM836 523h1v1h-1zM840 524h4v1h-4zM844 525h1v1h-1zM848 526h3v1h-3zM851 527h2v1h-2zM856 529h3v1h-3zM859 530h2v1h-2zM864 532h2v1h-2zM866 533h2v1h-2zM868 534h1v1h-1zM872 536h3v1h-3zM875 537h2v1h-2zM880 539h1v1h-1zM881 540h3v1h-3zM884 541h1v1h-1zM888 542h1v1h-1zM889 543h2v1h-2zM891 544h2v1h-2zM896 546h3v1h-3zM899 547h2v1h-2zM904 549h4v1h-4zM908 550h1v1h-1zM912 550h5v1h-5zM920 551h5v1h-5zM928 551h5v1h-5zM936 550h4v1h-4zM940 549h1v1h-1zM944 549h1v1h-1z"/>
</g>
<text x="12.4" y="464" fill="#000" font-size="9.6" stroke="#000" stroke-width="0.18" textLength="124" lengthAdjust="spacingAndGlyphs">MACD(12,26,9) -44.98 -55.29</text>
<rect x="1202" y="453" width="1" height="1" fill="#000"/>
<rect x="1202" y="504" width="1" height="1" fill="#000"/>
<rect x="1202" y="561" width="1" height="1" fill="#000"/>
<text x="1205" y="462" fill="#000" font-size="9.6" stroke="#000" stroke-width="0.18" textLength="22" lengthAdjust="spacingAndGlyphs">64.86</text>
<text x="1205" y="508" fill="#000" font-size="9.6" stroke="#000" stroke-width="0.18" textLength="17.5" lengthAdjust="spacingAndGlyphs">0.00</text>
<text x="1205" y="559" fill="#000" font-size="9.6" stroke="#000" stroke-width="0.18" textLength="25.5" lengthAdjust="spacingAndGlyphs">-71.44</text>
<g clip-path="url(#c2)">
<line x1="10" y1="595.5" x2="1201" y2="595.5" stroke="#c0c0c0" stroke-width="1" stroke-dasharray="3 3"/>
<line x1="10" y1="635.5" x2="1201" y2="635.5" stroke="#c0c0c0" stroke-width="1" stroke-dasharray="3 3"/>
<path fill="#1e90ff" d="M9 613h2v1h-2zM11 612h5v1h-5zM16 611h3v1h-3zM19 610h2v1h-2zM21 609h3v1h-3zM24 608h3v1h-3zM27 609h1v1h-1zM28 610h2v1h-2zM30 611h2v1h-2zM32 612h1v1h-1zM33 613h6v1h-6zM39 614h11v1h-11zM50 615h2v1h-2zM52 616h1v1h-1zM53 617h1v1h-1zM54 618h2v1h-2zM56 619h1v1h-1zM57 620h2v1h-2zM59 621h2v1h-2zM61 622h3v1h-3zM64 623h4v1h-4zM68 622h4v1h-4zM72 621h2v1h-2zM74 620h1v1h-1zM75 618h1v2h-1zM76 617h1v1h-1zM77 615h1v2h-1zM78 614h1v1h-1zM79 613h1v1h-1zM80 611h1v2h-1zM81 610h1v1h-1zM82 609h4v1h-4zM86 608h10v1h-10zM96 609h2v1h-2zM98 608h4v1h-4zM102 607h5v1h-5zM107 608h3v1h-3zM110 609h2v1h-2zM112 610h3v1h-3zM115 609h4v1h-4zM119 608h12v1h-12zM131 609h2v1h-2zM133 610h2v1h-2zM135 611h2v1h-2zM137 612h5v1h-5zM142 613h4v1h-4zM146 614h1v1h-1zM147 615h1v1h-1zM148 616h2v1h-2zM150 617h1v1h-1zM151 618h1v1h-1zM152 619h1v1h-1zM153 620h4v1h-4zM157 621h15v1h-15zM172 622h6v1h-6zM178 623h3v1h-3zM181 624h4v1h-4zM185 625h4v1h-4zM189 626h6v1h-6zM195 625h3v1h-3zM198 624h3v1h-3zM201 623h5v1h-5zM206 622h5v1h-5zM211 621h4v1h-4zM215 620h4v1h-4zM219 619h4v1h-4zM223 618h3v1h-3zM226 617h2v1h-2zM228 616h2v1h-2zM230 615h2v1h-2zM232 614h2v1h-2zM234 613h1v1h-1zM235 611h1v2h-1zM236 610h1v1h-1zM237 609h1v1h-1zM238 608h1v1h-1zM239 607h1v1h-1zM240 606h1v1h-1zM241 605h1v1h-1zM242 604h2v1h-2zM244 603h2v1h-2zM246 602h2v1h-2zM248 601h2v1h-2zM250 602h1v1h-1zM251 603h1v1h-1zM252 604h1v1h-1zM253 605h1v1h-1zM254 606h1v1h-1zM255 607h1v2h-1zM256 609h1v1h-1zM257 610h1v1h-1zM258 609h2v1h-2zM260 608h1v1h-1zM261 607h2v1h-2zM263 606h2v1h-2zM265 605h4v1h-4zM269 604h5v1h-5zM274 603h1v1h-1zM275 601h1v2h-1zM276 600h1v1h-1zM277 599h1v1h-1zM278 598h1v1h-1zM279 597h1v1h-1zM280 596h1v1h-1zM281 595h1v1h-1zM282 594h5v1h-5zM287 593h3v1h-3zM290 592h1v1h-1zM291 591h1v1h-1zM292 590h1v1h-1zM293 589h1v1h-1zM294 588h1v1h-1zM295 587h1v1h-1zM296 586h1v1h-1zM297 585h2v1h-2zM299 586h3v1h-3zM302 587h2v1h-2zM304 588h2v1h-2zM306 589h2v1h-2zM308 590h1v1h-1zM309 591h2v1h-2zM311 592h2v1h-2zM313 593h3v1h-3zM316 592h6v1h-6zM322 591h2v1h-2zM324 590h2v1h-2zM326 589h2v1h-2zM328 588h2v1h-2zM330 589h1v1h-1zM331 590h1v2h-1zM332 592h1v1h-1zM333 593h1v1h-1zM334 594h1v1h-1zM335 595h1v1h-1zM336 596h1v2h-1zM337 598h5v1h-5zM342 599h5v1h-5zM347 600h3v1h-3zM350 601h3v1h-3zM353 602h3v1h-3zM356 603h2v1h-2zM358 604h3v1h-3zM361 605h2v1h-2zM363 606h1v1h-1zM364 607h1v1h-1zM365 608h2v1h-2zM367 609h1v1h-1zM368 610h1v1h-1zM369 611h2v1h-2zM371 610h5v1h-5zM376 609h3v1h-3zM379 608h3v1h-3zM382 607h2v1h-2zM384 606h2v1h-2zM386 607h1v1h-1zM387 608h1v2h-1zM388 610h1v1h-1zM389 611h1v1h-1zM390 612h1v1h-1zM391 613h1v1h-1zM392 614h1v2h-1zM393 616h4v1h-4zM397 617h3v1h-3zM400 618h3v1h-3zM403 619h2v1h-2zM405 620h1v1h-1zM406 621h2v1h-2zM408 622h2v1h-2zM410 623h2v1h-2zM412 624h3v1h-3zM415 625h2v1h-2zM417 626h3v1h-3zM420 625h7v1h-7zM427 624h4v1h-4zM431 623h7v1h-7zM438 622h7v1h-7zM445 623h7v1h-7zM452 622h4v1h-4zM456 621h2v1h-2zM458 620h1v1h-1zM459 619h2v1h-2zM461 618h1v1h-1zM462 617h1v1h-1zM463 616h1v1h-1zM464 615h3v1h-3zM467 616h2v1h-2zM469 617h2v1h-2zM471 618h2v1h-2zM473 619h20v1h-20zM493 618h13v1h-13zM506 617h1v1h-1zM507 616h1v1h-1zM508 615h2v1h-2zM510 614h1v1h-1zM511 613h1v1h-1zM512 612h1v1h-1zM513 611h1v2h-1zM514 613h1v1h-1zM515 614h1v1h-1zM516 615h1v2h-1zM517 617h1v1h-1zM518 618h1v2h-1zM519 620h1v1h-1zM520 621h1v2h-1zM521 623h5v1h-5zM526 624h4v1h-4zM530 623h1v1h-1zM531 621h1v2h-1zM532 620h1v1h-1zM533 619h1v1h-1zM534 618h1v1h-1zM535 616h1v2h-1zM536 615h1v1h-1zM537 614h3v1h-3zM540 615h2v1h-2zM542 616h3v1h-3zM545 617h6v1h-6zM551 618h4v1h-4zM555 617h4v1h-4zM559 616h3v1h-3zM562 617h1v1h-1zM563 618h2v1h-2zM565 619h1v1h-1zM566 620h1v1h-1zM567 621h1v1h-1zM568 622h1v1h-1zM569 623h1v1h-1zM570 622h2v1h-2zM572 621h1v1h-1zM573 620h2v1h-2zM575 619h2v1h-2zM577 618h2v1h-2zM579 619h2v1h-2zM581 620h2v1h-2zM583 621h2v1h-2zM585 622h2v1h-2zM587 623h3v1h-3zM590 624h3v1h-3zM593 625h2v1h-2zM595 626h1v1h-1zM596 627h2v1h-2zM598 628h2v1h-2zM600 629h2v1h-2zM602 630h6v1h-6zM608 631h2v1h-2zM610 630h2v1h-2zM612 629h1v1h-1zM613 628h2v1h-2zM615 627h2v1h-2zM617 626h3v1h-3zM620 627h4v1h-4zM624 628h2v1h-2zM626 627h2v1h-2zM628 626h2v1h-2zM630 625h2v1h-2zM632 624h6v1h-6zM638 625h6v1h-6zM644 626h4v1h-4zM648 627h3v1h-3zM651 628h3v1h-3zM654 629h3v1h-3zM657 630h1v1h-1zM658 629h2v1h-2zM660 628h1v1h-1zM661 627h2v1h-2zM663 626h1v1h-1zM664 625h2v1h-2zM666 624h2v1h-2zM668 623h1v1h-1zM669 622h2v1h-2zM671 621h1v1h-1zM672 620h3v1h-3zM675 621h2v1h-2zM677 622h3v1h-3zM680 623h2v1h-2zM682 624h1v1h-1zM683 625h1v1h-1zM684 626h2v1h-2zM686 627h1v1h-1zM687 628h1v1h-1zM688 629h2v1h-2zM690 630h2v1h-2zM692 631h2v1h-2zM694 632h3v1h-3zM697 633h3v1h-3zM700 634h4v1h-4zM704 635h2v1h-2zM706 633h1v2h-1zM707 632h1v1h-1zM708 631h1v1h-1zM709 629h1v2h-1zM710 628h1v1h-1zM711 627h1v1h-1zM712 625h1v2h-1zM713 624h3v1h-3zM716 625h5v1h-5zM721 626h1v1h-1zM722 625h1v1h-1zM723 623h1v2h-1zM724 622h1v1h-1zM725 621h1v1h-1zM726 620h1v1h-1zM727 619h1v1h-1zM728 618h1v1h-1zM729 617h5v1h-5zM734 618h5v1h-5zM739 619h2v1h-2zM741 620h3v1h-3zM744 621h5v1h-5zM749 622h5v1h-5zM754 621h1v1h-1zM755 619h1v2h-1zM756 618h1v1h-1zM757 617h1v1h-1zM758 616h1v1h-1zM759 614h1v2h-1zM760 613h1v1h-1zM761 612h2v1h-2zM763 613h3v1h-3zM766 614h3v1h-3zM769 615h2v1h-2zM771 616h2v1h-2zM773 617h2v1h-2zM775 618h2v1h-2zM777 619h5v1h-5zM782 618h7v1h-7zM789 617h9v1h-9zM798 618h4v1h-4zM802 619h2v1h-2zM804 620h1v1h-1zM805 621h1v1h-1zM806 622h2v1h-2zM808 623h1v1h-1zM809 624h1v1h-1zM810 625h1v1h-1zM811 626h2v1h-2zM813 627h1v1h-1zM814 628h1v1h-1zM815 629h1v1h-1zM816 630h1v1h-1zM817 631h9v1h-9zM826 630h2v1h-2zM828 629h1v1h-1zM829 628h2v1h-2zM831 627h1v1h-1zM832 626h3v1h-3zM835 627h2v1h-2zM837 628h2v1h-2zM839 629h3v1h-3zM842 630h2v1h-2zM844 631h2v1h-2zM846 632h3v1h-3zM849 633h5v1h-5zM854 634h4v1h-4zM858 635h1v1h-1zM859 636h2v1h-2zM861 637h1v1h-1zM862 638h1v1h-1zM863 639h2v1h-2zM865 640h1v1h-1zM866 638h1v2h-1zM867 637h1v1h-1zM868 635h1v2h-1zM869 633h1v2h-1zM870 631h1v2h-1zM871 629h1v2h-1zM872 628h1v1h-1zM873 626h1v2h-1zM874 626h8v1h-8zM882 627h1v1h-1zM883 628h2v1h-2zM885 629h1v1h-1zM886 630h1v1h-1zM887 631h1v1h-1zM888 632h1v1h-1zM889 633h1v1h-1zM890 632h1v1h-1zM891 631h1v1h-1zM892 630h1v1h-1zM893 628h1v2h-1zM894 627h1v1h-1zM895 626h1v1h-1zM896 625h1v1h-1zM897 624h4v1h-4zM901 623h5v1h-5zM906 622h3v1h-3zM909 621h3v1h-3zM912 620h4v1h-4zM916 621h4v1h-4zM920 622h5v1h-5zM925 621h6v1h-6zM931 620h4v1h-4zM935 619h4v1h-4zM939 620h2v1h-2zM941 621h1v1h-1zM942 622h2v1h-2zM944 623h2v1h-2z"/>
</g>
<text x="12.8" y="577" fill="#000" font-size="9.6" stroke="#000" stroke-width="0.18" textLength="67.4" lengthAdjust="spacingAndGlyphs">RSI(14) 40.8866</text>
<rect x="1202" y="566" width="1" height="1" fill="#000"/>
<rect x="1202" y="664" width="1" height="1" fill="#000"/>
<text x="1205" y="575" fill="#000" font-size="9.6" stroke="#000" stroke-width="0.18" textLength="14.8" lengthAdjust="spacingAndGlyphs">100</text>
<text x="1203.6" y="599" fill="#000" font-size="9.6" stroke="#000" stroke-width="0.18" textLength="9.8" lengthAdjust="spacingAndGlyphs">70</text>
<text x="1203.6" y="639" fill="#000" font-size="9.6" stroke="#000" stroke-width="0.18" textLength="10" lengthAdjust="spacingAndGlyphs">30</text>
<text x="1204.3" y="662" fill="#000" font-size="9.6" stroke="#000" stroke-width="0.18" textLength="5.2" lengthAdjust="spacingAndGlyphs">0</text>
<rect x="9" y="666" width="1" height="3" fill="#000"/>
<text x="8.2" y="678" fill="#000" font-size="9.6" stroke="#000" stroke-width="0.18" textLength="53.4" lengthAdjust="spacingAndGlyphs">15 Nov 2021</text>
<rect x="73" y="666" width="1" height="3" fill="#000"/>
<text x="72.2" y="678" fill="#000" font-size="9.6" stroke="#000" stroke-width="0.18" textLength="56.8" lengthAdjust="spacingAndGlyphs">19 Nov 01:30</text>
<rect x="137" y="666" width="1" height="3" fill="#000"/>
<text x="136.2" y="678" fill="#000" font-size="9.6" stroke="#000" stroke-width="0.18" textLength="56.8" lengthAdjust="spacingAndGlyphs">25 Nov 01:30</text>
<rect x="201" y="666" width="1" height="3" fill="#000"/>
<text x="200.2" y="678" fill="#000" font-size="9.6" stroke="#000" stroke-width="0.18" textLength="50.8" lengthAdjust="spacingAndGlyphs">1 Dec 01:30</text>
<rect x="265" y="666" width="1" height="3" fill="#000"/>
<text x="264.2" y="678" fill="#000" font-size="9.6" stroke="#000" stroke-width="0.18" textLength="51" lengthAdjust="spacingAndGlyphs">7 Dec 01:30</text>
<rect x="329" y="666" width="1" height="3" fill="#000"/>
<text x="328.2" y="678" fill="#000" font-size="9.6" stroke="#000" stroke-width="0.18" textLength="55.4" lengthAdjust="spacingAndGlyphs">13 Dec 01:30</text>
<rect x="393" y="666" width="1" height="3" fill="#000"/>
<text x="392.2" y="678" fill="#000" font-size="9.6" stroke="#000" stroke-width="0.18" textLength="55.6" lengthAdjust="spacingAndGlyphs">17 Dec 01:30</text>
<rect x="457" y="666" width="1" height="3" fill="#000"/>
<text x="456.2" y="678" fill="#000" font-size="9.6" stroke="#000" stroke-width="0.18" textLength="56" lengthAdjust="spacingAndGlyphs">23 Dec 01:30</text>
<rect x="521" y="666" width="1" height="3" fill="#000"/>
<text x="520.2" y="678" fill="#000" font-size="9.6" stroke="#000" stroke-width="0.18" textLength="55.9" lengthAdjust="spacingAndGlyphs">29 Dec 01:30</text>
<rect x="585" y="666" width="1" height="3" fill="#000"/>
<text x="584.2" y="678" fill="#000" font-size="9.6" stroke="#000" stroke-width="0.18" textLength="48.9" lengthAdjust="spacingAndGlyphs">5 Jan 01:30</text>
<rect x="649" y="666" width="1" height="3" fill="#000"/>
<text x="648.2" y="678" fill="#000" font-size="9.6" stroke="#000" stroke-width="0.18" textLength="53" lengthAdjust="spacingAndGlyphs">11 Jan 01:30</text>
<rect x="713" y="666" width="1" height="3" fill="#000"/>
<text x="712.2" y="678" fill="#000" font-size="9.6" stroke="#000" stroke-width="0.18" textLength="53.1" lengthAdjust="spacingAndGlyphs">17 Jan 01:30</text>
<rect x="777" y="666" width="1" height="3" fill="#000"/>
<text x="776.2" y="678" fill="#000" font-size="9.6" stroke="#000" stroke-width="0.18" textLength="53.1" lengthAdjust="spacingAndGlyphs">21 Jan 01:30</text>
<rect x="841" y="666" width="1" height="3" fill="#000"/>
<text x="840.2" y="678" fill="#000" font-size="9.6" stroke="#000" stroke-width="0.18" textLength="53.1" lengthAdjust="spacingAndGlyphs">27 Jan 01:30</text>
<rect x="905" y="666" width="1" height="3" fill="#000"/>
<text x="904.2" y="678" fill="#000" font-size="9.6" stroke="#000" stroke-width="0.18" textLength="50.3" lengthAdjust="spacingAndGlyphs">9 Feb 01:30</text>
</svg></body></html>
